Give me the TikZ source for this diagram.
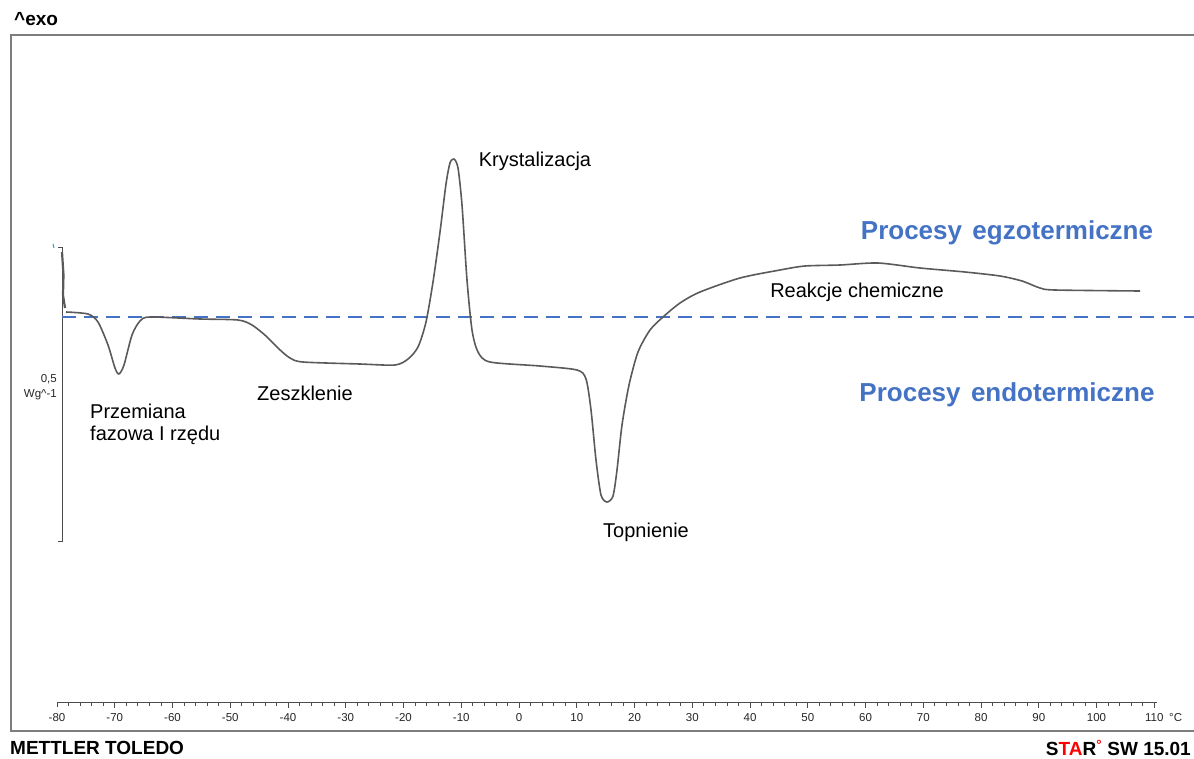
\documentclass[tikz,border=0pt]{standalone}
\usepackage{fontspec}
\setmainfont{Liberation Sans}
\usetikzlibrary{positioning}
\definecolor{procblue}{RGB}{68,114,196}
\definecolor{framegray}{RGB}{125,125,125}
\definecolor{curvegray}{RGB}{90,90,90}

\begin{document}
\begin{tikzpicture}[x=1pt,y=-1pt,
    lbl/.style={font=\fontsize{20}{24}\selectfont, inner sep=0pt},
    proc/.style={font=\fontsize{26}{30}\selectfont\bfseries, text=procblue, inner sep=0pt},
    ticklbl/.style={font=\fontsize{11.5}{13}\selectfont, inner sep=0pt, text=black!85},
    curve/.style={draw=curvegray, line width=1.6pt, line join=round},
  ]
    \useasboundingbox (0,0) rectangle (1194,758);

    % frame
    \draw [framegray, line width=2pt] (1194,35) -- (11,35) -- (11,731) -- (1194,731);

    % x axis
    \draw [black!70, line width=1pt] (57,707) -- (57,702) -- (1157,702);
    \foreach \t in {-78,-76,...,110}
      \draw [black!70, line width=0.8pt] ({519+\t*5.775},702) -- ++(0,3.5);
    \foreach \t in {-70,-60,...,110}
      \draw [black!70, line width=0.8pt] ({519+\t*5.775},702) -- ++(0,5.5);
    \foreach \t in {-80,-70,...,110}
      \node [ticklbl] (x\t) at ({519+\t*5.775},718) {\t};
    \node [ticklbl, anchor=west] (degC) at (1169,718) {°C};

    % y scale bracket
    \draw [black!70, line width=1pt] (58,247) -- (62,247) -- (62,541) -- (58,541);
    \draw [cyan!70!teal, line width=1pt] (53,244) -- (54,248);
    \node [ticklbl, anchor=east] (ynum) at (57,379) {0,5};
    \node [ticklbl, anchor=east] (yunit) at (57,395) {Wg\^{}-1};

    % baseline
    \draw [procblue, line width=2.6pt, dash pattern=on 14pt off 8pt] (62,317) -- (1194,317);

    % DSC curve
    \draw [curve, line width=2.2pt] (62,252) -- (63.5,275) -- (63,295) -- (65,308);
    \draw [curve] plot [smooth, tension=0.45] coordinates {
      (66,312) (88,314) (98,322) (108,345) (115,368) (119,374) (124,365)
      (132,335) (140,321) (150,317) (200,319) (238,320) (252,325) (266,336)
      (279,349) (290,358) (303,362) (360,364) (395,365) (408,359) (418,347)
      (426,322) (433,282) (440,232) (446,184) (450,163) (454,159) (458,168)
      (462,205) (467,280) (472,330) (478,352) (490,362) (540,366) (577,370)
      (586,379) (591,410) (596,460) (601,495) (607,502) (613,496) (617,470)
      (622,425) (629,385) (638,352) (650,330) (663,317) (680,303) (700,292)
      (740,278) (780,270) (805,266) (840,265) (878,263) (920,268) (965,272)
      (1000,276) (1022,281) (1040,288) (1055,290) (1140,291)};

    % labels
    \node [lbl] (kryst) at (535,161) {Krystalizacja};
    \node [lbl] (reak) at (857,292) {Reakcje chemiczne};
    \node [lbl] (zesz) at (305,393) {Zeszklenie};
    \node [lbl, anchor=west] (przem) at (90,411) {Przemiana};
    \node [lbl, anchor=west] (fazowa) at (90,435) {fazowa I rzędu};
    \node [lbl] (topn) at (646,532) {Topnienie};
    \node [proc] (egzo) at (1007,233) {Procesy\hspace{0.4em}egzotermiczne};
    \node [proc] (endo) at (1007,395) {Procesy\hspace{0.4em}endotermiczne};

    % header and footer
    \node [anchor=west, inner sep=0pt, font=\fontsize{19}{22}\selectfont\bfseries] (exo) at (14,19) {\^{}exo};
    \node [anchor=west, inner sep=0pt, font=\fontsize{19}{22}\selectfont\bfseries] (mettler) at (10,748) {METTLER TOLEDO};
    \node [anchor=east, inner sep=0pt, font=\fontsize{19}{22}\selectfont\bfseries] (star) at (1191,748)
      {S\textcolor{red}{TA}R\textsuperscript{\textcolor{red}{°}} SW 15.01};
\end{tikzpicture}
\end{document}
